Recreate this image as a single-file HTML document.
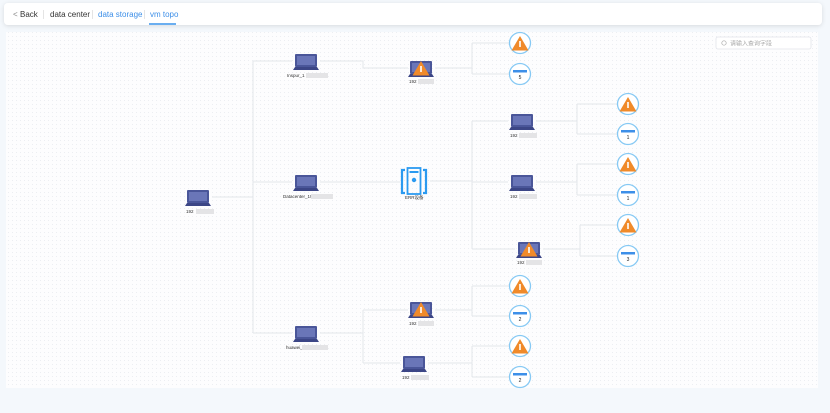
<!DOCTYPE html>
<html><head><meta charset="utf-8"><style>
html,body{margin:0;padding:0;width:830px;height:413px;overflow:hidden;background:#f4f8fc;font-family:"Liberation Sans","Noto Sans CJK SC",sans-serif;}
</style></head><body>
<svg width="830" height="413" viewBox="0 0 830 413" xmlns="http://www.w3.org/2000/svg" font-family="Liberation Sans, Noto Sans CJK SC, sans-serif">
<defs>
<pattern id="dots" width="4" height="4" patternUnits="userSpaceOnUse"><rect width="4" height="4" fill="#fdfdfe"/><rect width="1" height="1" fill="#eceef2"/></pattern>
<filter id="sh" x="-5%" y="-50%" width="110%" height="200%"><feDropShadow dx="0" dy="1" stdDeviation="2" flood-color="#000" flood-opacity="0.12"/></filter>
<g id="lap"><rect x="-11" y="0" width="22" height="13" rx="1" fill="#4a5699"/><rect x="-9" y="2" width="18" height="9" fill="#6a76b8"/><path d="M-11 13 H11 L13 16 H-13Z" fill="#3c4686"/></g>
<g id="warn"><path d="M0 -6 L7 6 H-7Z" fill="#f08a2a"/><rect x="-0.7" y="-2" width="1.4" height="5" fill="#fff"/></g>
<g id="warnb"><path d="M0 -8 L8.5 6.5 H-8.5Z" fill="#f08a2a"/><rect x="-0.8" y="-3" width="1.6" height="6" fill="#fff"/></g>
<g id="circ"><circle r="10.5" fill="#fff" stroke="#86c9f4" stroke-width="1.3"/></g>
</defs>
<rect x="0" y="0" width="830" height="413" fill="#f4f8fc"/>
<rect x="6" y="32" width="812" height="356" fill="url(#dots)"/>
<rect x="4" y="3" width="818" height="22" rx="4" fill="#fff" filter="url(#sh)"/>
<text x="13" y="17" font-size="8" fill="#888">&lt;</text>
<text x="20" y="17" font-size="8" fill="#333">Back</text>
<rect x="43" y="10" width="0.8" height="9" fill="#ddd"/>
<text x="50" y="17" font-size="8" fill="#333">data center</text>
<rect x="92" y="10" width="0.8" height="9" fill="#ddd"/>
<text x="98" y="17" font-size="8" fill="#3d8fe8">data storage</text>
<rect x="144" y="10" width="0.8" height="9" fill="#ddd"/>
<text x="150" y="17" font-size="8" fill="#3d8fe8">vm topo</text>
<rect x="149" y="23" width="27" height="2" fill="#6aaef0"/>
<rect x="716" y="37" width="95" height="12" rx="2" fill="#fff" stroke="#e2e4ea" stroke-width="0.8"/>
<circle cx="724" cy="43" r="2.2" fill="none" stroke="#aaa" stroke-width="0.7"/>
<text x="730" y="45.5" font-size="6" fill="#aaa">请输入查询字段</text>
<g stroke="#e3e6eb" stroke-width="1" fill="none">
<path d="M212 197 H253 M253 61 V333 M253 61 H292 M253 182 H292 M253 333 H292"/>
<path d="M320 61 H363 V68 H408"/>
<path d="M320 182 H400"/>
<path d="M320 333 H363 M363 310 V363 M363 310 H408 M363 363 H400"/>
<path d="M430 181 H472 M472 121 V249 M472 121 H508 M472 182 H508 M472 249 H515"/>
<path d="M435 68 H472 M472 43 V74 M472 43 H509 M472 74 H509"/>
<path d="M536 121 H577 M577 104 V134 M577 104 H617 M577 134 H617"/>
<path d="M536 182 H577 M577 164 V195 M577 164 H617 M577 195 H617"/>
<path d="M543 249 H580 M580 225 V256 M580 225 H617 M580 256 H617"/>
<path d="M435 310 H472 M472 286 V316 M472 286 H509 M472 316 H509"/>
<path d="M428 363 H472 M472 346 V377 M472 346 H509 M472 377 H509"/>
</g>
<g font-size="4.5" fill="#333">
<use href="#lap" x="198" y="190"/><text x="186" y="213">192</text><rect x="196" y="209" width="18" height="5" fill="#e4e4e6"/>
<use href="#lap" x="306" y="54"/><text x="287" y="77">Inspur_1</text><rect x="306" y="73" width="22" height="5" fill="#e4e4e6"/>
<use href="#lap" x="306" y="175"/><text x="283" y="198">Datacenter_19</text><rect x="311" y="194" width="22" height="5" fill="#e4e4e6"/>
<use href="#lap" x="306" y="326"/><text x="286" y="349">huawei_</text><rect x="302" y="345" width="26" height="5" fill="#e4e4e6"/>
<use href="#lap" x="421" y="61"/><use href="#warnb" x="421" y="69"/><text x="409" y="83">192</text><rect x="418" y="79" width="16" height="5" fill="#e4e4e6"/>
<use href="#lap" x="522" y="114"/><text x="510" y="137">192</text><rect x="519" y="133" width="18" height="5" fill="#e4e4e6"/>
<use href="#lap" x="522" y="175"/><text x="510" y="198">192</text><rect x="519" y="194" width="18" height="5" fill="#e4e4e6"/>
<use href="#lap" x="529" y="242"/><use href="#warnb" x="529" y="250"/><text x="517" y="264">192</text><rect x="526" y="260" width="16" height="5" fill="#e4e4e6"/>
<use href="#lap" x="421" y="302"/><use href="#warnb" x="421" y="310"/><text x="409" y="325">192</text><rect x="418" y="321" width="16" height="5" fill="#e4e4e6"/>
<use href="#lap" x="414" y="356"/><text x="402" y="379">192</text><rect x="411" y="375" width="18" height="5" fill="#e4e4e6"/>
</g>
<g fill="none" stroke="#2b9af0" stroke-width="2.2">
<path d="M405 170 H402 V193 H405"/><path d="M423 170 H426 V193 H423"/>
</g>
<rect x="407.5" y="168" width="13" height="26" fill="none" stroke="#2b9af0" stroke-width="1.8"/>
<rect x="409.5" y="171" width="9" height="2" fill="#2b9af0"/>
<circle cx="414" cy="180" r="2.2" fill="#2b9af0"/>
<text x="405" y="199" font-size="4.5" fill="#333">ERR设备</text>
<g font-size="5" fill="#222" text-anchor="middle">
<use href="#circ" x="520" y="43"/><use href="#warnb" x="520" y="44"/>
<use href="#circ" x="520" y="74"/><rect x="513" y="70" width="14" height="2.5" fill="#3d8fe8"/><text x="520" y="79">5</text>
<use href="#circ" x="628" y="104"/><use href="#warnb" x="628" y="105"/>
<use href="#circ" x="628" y="134"/><rect x="621" y="130" width="14" height="2.5" fill="#3d8fe8"/><text x="628" y="139">1</text>
<use href="#circ" x="628" y="164"/><use href="#warnb" x="628" y="165"/>
<use href="#circ" x="628" y="195"/><rect x="621" y="191" width="14" height="2.5" fill="#3d8fe8"/><text x="628" y="200">1</text>
<use href="#circ" x="628" y="225"/><use href="#warnb" x="628" y="226"/>
<use href="#circ" x="628" y="256"/><rect x="621" y="252" width="14" height="2.5" fill="#3d8fe8"/><text x="628" y="261">3</text>
<use href="#circ" x="520" y="286"/><use href="#warnb" x="520" y="287"/>
<use href="#circ" x="520" y="316"/><rect x="513" y="312" width="14" height="2.5" fill="#3d8fe8"/><text x="520" y="321">2</text>
<use href="#circ" x="520" y="346"/><use href="#warnb" x="520" y="347"/>
<use href="#circ" x="520" y="377"/><rect x="513" y="373" width="14" height="2.5" fill="#3d8fe8"/><text x="520" y="382">2</text>
</g>
</svg>
</body></html>
